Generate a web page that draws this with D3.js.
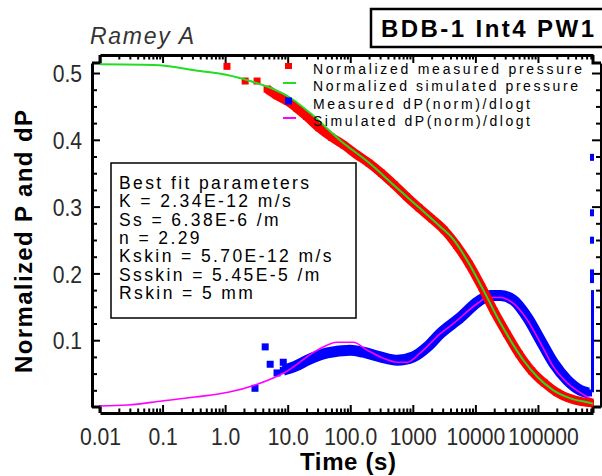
<!DOCTYPE html>
<html><head><meta charset="utf-8">
<script src="https://cdn.jsdelivr.net/npm/d3@7"></script>
<style>body{margin:0;background:#fff}svg{display:block}text{font-family:"Liberation Sans",Arial,sans-serif}</style>
</head><body>
<svg id="c" width="602" height="476"></svg>
<script>
// ---- data (time in s, normalized values) ----
const simPTime = [0.01,0.0705,0.398,1.08,2.51,5.25,11.0,22.9,69.2,209,525,1318,2754,4446,7447,13430,22490,36310,58610,98170,177000,331100,691800,758600];
const simP     = [0.513,0.512,0.503,0.497,0.488,0.478,0.463,0.440,0.399,0.364,0.330,0.297,0.270,0.251,0.219,0.175,0.134,0.100,0.070,0.045,0.025,0.013,0.006,0.005];

const measPTime = [1.07,2.09,3.24,4.68,6.76,9.77,14.1,20.0,31.6,50.1,79.4,126,200,316,501,794,1259,1995,3162,5012,7943,12590,19950,31620,50120,79430,125900,199500,316200,501200,758600];
const measP     = [0.510,0.488,0.488,0.476,0.466,0.458,0.447,0.435,0.418,0.404,0.392,0.378,0.365,0.350,0.333,0.315,0.298,0.282,0.265,0.242,0.214,0.180,0.143,0.110,0.079,0.054,0.036,0.022,0.013,0.008,0.006];

const measDPEarlyTime = [3.0,4.37,5.25,6.76,8.5];
const measDPEarly     = [0.028,0.090,0.064,0.051,0.067];
const measDPTime = [8.5,13.2,20.5,42.9,100,161,302,565,1019,1706,2754,5754,10770,17380,25120,40550,67920,109600,177000,296500,478600,642700];
const measDP     = [0.055,0.061,0.070,0.081,0.085,0.082,0.075,0.070,0.075,0.090,0.110,0.134,0.157,0.167,0.167,0.160,0.134,0.100,0.066,0.040,0.025,0.021];
const spikeTime = 745000;
const spikeLow  = [0.022,0.175];
const spikeHigh = [0.19,0.20,0.249,0.29,0.373];

const simDPTime = [0.01,0.028,0.098,0.331,1.12,3.02,9.12,29.6,61.9,112,187,337,565,817,1318,2754,4446,10770,15560,25120,40550,67920,109600,177000,296500,619400,772700];
const simDP     = [0.0015,0.003,0.009,0.015,0.022,0.033,0.052,0.085,0.097,0.097,0.085,0.073,0.067,0.067,0.081,0.110,0.125,0.155,0.164,0.164,0.155,0.130,0.096,0.060,0.036,0.015,0.010];

const xMajor = [0.01,0.1,1,10,100,1000,10000,100000];
const xLabels = ["0.01","0.1","1.0","10.0","100.0","1000","10000","100000"];
const yMajor = [0.1,0.2,0.3,0.4,0.5];
const yLabels = ["0.1","0.2","0.3","0.4","0.5"];

const legendLabels = ["Normalized measured pressure","Normalized simulated pressure","Measured dP(norm)/dlogt","Simulated dP(norm)/dlogt"];
const paramLines = ["Best fit parameters","K = 2.34E-12 m/s","Ss = 6.38E-6 /m","n = 2.29","Kskin = 5.70E-12 m/s","Ssskin = 5.45E-5 /m","Rskin = 5 mm"];

// ---- drawing ----
const svg = d3.select("#c");
const x = d3.scaleLog().domain([0.01, 758600]).range([100, 593]);
const y = d3.scaleLinear().domain([0, 0.515]).range([407, 63]);

const RED="#ff0000", GREEN="#22dd22", BLUE="#0000ff", MAG="#ff00ff";

const xMinor = [];
for (let k=-2;k<=5;k++) for (let m=2;m<=9;m++){const v=m*Math.pow(10,k); if(v<=758600) xMinor.push(v);}
const yMinor = d3.range(0.025,0.515,0.025).filter(v=>Math.abs(v*10-Math.round(v*10))>1e-6);

function styleAxis(g, w){ g.select(".domain").attr("stroke","#000").attr("stroke-width",w); g.selectAll(".tick line").attr("stroke","#000").attr("stroke-width",2); }
function minor(g){ g.select(".domain").remove(); g.selectAll(".tick line").attr("stroke","#000").attr("stroke-width",2); }

// bottom axis
const gb = svg.append("g").attr("transform","translate(0,413)");
gb.call(d3.axisBottom(x).tickValues(xMajor).tickFormat((d,i)=>xLabels[i]).tickSizeInner(-8).tickSizeOuter(0).tickPadding(32));
styleAxis(gb,3);
gb.selectAll(".tick text").attr("font-size",24).attr("fill","#2a2a2a").attr("dy",0).attr("y",32)
  .attr("dx",(d,i)=>i===xMajor.length-1?5:0);
minor(svg.append("g").attr("transform","translate(0,413)").call(d3.axisBottom(x).tickValues(xMinor).tickFormat("").tickSizeInner(-4.5).tickSizeOuter(0)));

// top axis
const gt = svg.append("g").attr("transform","translate(0,55)");
gt.call(d3.axisTop(x).tickValues(xMajor).tickFormat("").tickSizeInner(-8).tickSizeOuter(0));
styleAxis(gt,3);
minor(svg.append("g").attr("transform","translate(0,55)").call(d3.axisTop(x).tickValues(xMinor).tickFormat("").tickSizeInner(-4.5).tickSizeOuter(0)));

// left axis
const gl = svg.append("g").attr("transform","translate(92,0)");
gl.call(d3.axisLeft(y).tickValues(yMajor).tickFormat((d,i)=>yLabels[i]).tickSizeInner(-8).tickSizeOuter(0).tickPadding(10));
styleAxis(gl,3);
gl.selectAll(".tick text").attr("font-size",24).attr("fill","#2a2a2a").attr("dy","0.36em");
minor(svg.append("g").attr("transform","translate(92,0)").call(d3.axisLeft(y).tickValues(yMinor).tickFormat("").tickSizeInner(-5).tickSizeOuter(0)));

// right axis
const gr = svg.append("g").attr("transform","translate(601,0)");
gr.call(d3.axisRight(y).tickValues(yMajor).tickFormat("").tickSizeInner(-9).tickSizeOuter(0));
styleAxis(gr,3);
minor(svg.append("g").attr("transform","translate(601,0)").call(d3.axisRight(y).tickValues(yMinor).tickFormat("").tickSizeInner(-5).tickSizeOuter(0)));

// corner connectors
const [x0,x1]=x.range(), [yb,yt]=y.range();
const corner = `M92,${yb}H${x0}V413 M92,${yt}H${x0}V55 M${x1},55V${yt}H601 M${x1},413V${yb}H601`;
svg.append("path").attr("d",corner).attr("fill","none").attr("stroke","#000").attr("stroke-width",3);

// condense tick labels horizontally
svg.selectAll(".tick text").each(function(){const l=this.getComputedTextLength(); d3.select(this).attr("textLength",l*0.88).attr("lengthAdjust","spacingAndGlyphs");});

// clip
svg.append("clipPath").attr("id","pc").append("rect").attr("x",x0).attr("y",50).attr("width",x1-x0+1).attr("height",366);
const plot = svg.append("g").attr("clip-path","url(#pc)");

const line = d3.line().x(d=>x(d[0])).y(d=>y(d[1])).curve(d3.curveMonotoneX);
const zip=(a,b)=>a.map((t,i)=>[t,b[i]]);

// measured dP (blue)
plot.append("path").datum(zip(measDPTime,measDP)).attr("d",line).attr("fill","none").attr("stroke",BLUE).attr("stroke-width",11);
plot.selectAll(".bq").data(zip(measDPEarlyTime,measDPEarly).concat(zip(measDPTime,measDP))).join("rect")
  .attr("x",d=>x(d[0])-3.5).attr("y",d=>y(d[1])-3.5).attr("width",7).attr("height",7).attr("fill",BLUE);
plot.append("path").datum(spikeLow.map(v=>[spikeTime,v])).attr("d",d3.line().x(d=>x(d[0])).y(d=>y(d[1]))).attr("stroke",BLUE).attr("stroke-width",3);
plot.selectAll(".bs").data(spikeHigh).join("rect")
  .attr("x",x(spikeTime)-2.5).attr("y",d=>y(d)-4).attr("width",5).attr("height",7).attr("fill",BLUE);

// simulated dP (magenta)
plot.append("path").datum(zip(simDPTime,simDP)).attr("d",line).attr("fill","none").attr("stroke",MAG).attr("stroke-width",1.6);

// measured pressure (red)
plot.append("path").datum(zip(measPTime,measP).slice(3)).attr("d",line).attr("fill","none").attr("stroke",RED).attr("stroke-width",9);
plot.selectAll(".rq").data(zip(measPTime,measP)).join("rect")
  .attr("x",d=>x(d[0])-3.5).attr("y",d=>y(d[1])-3.5).attr("width",7).attr("height",7).attr("fill",RED);

// simulated pressure (green)
plot.append("path").datum(zip(simPTime,simP)).attr("d",line).attr("fill","none").attr("stroke",GREEN).attr("stroke-width",2);

// legend
const lg = svg.append("g");
const lgY=[66,83,101,118], lgW=[269,265,217,217];
lg.append("rect").attr("x",285).attr("y",lgY[0]-3).attr("width",7).attr("height",6).attr("fill",RED);
lg.append("line").attr("x1",283).attr("x2",296).attr("y1",lgY[1]).attr("y2",lgY[1]).attr("stroke",GREEN).attr("stroke-width",2);
lg.append("rect").attr("x",285).attr("y",lgY[2]-3.5).attr("width",7).attr("height",7).attr("fill",BLUE);
lg.append("line").attr("x1",283).attr("x2",296).attr("y1",lgY[3]).attr("y2",lgY[3]).attr("stroke",MAG).attr("stroke-width",2);
lg.selectAll("text").data(legendLabels).join("text").attr("x",313).attr("y",(d,i)=>lgY[i]+8)
  .attr("font-size",14).attr("fill","#000").attr("textLength",(d,i)=>lgW[i]).attr("lengthAdjust","spacing").text(d=>d);

// parameter box
svg.append("rect").attr("x",111).attr("y",163).attr("width",245).attr("height",155).attr("fill","#fff").attr("stroke","#000").attr("stroke-width",1.5);
svg.selectAll(".pl").data(paramLines).join("text").attr("x",119).attr("y",(d,i)=>189+i*18.3)
  .attr("font-size",17.5).attr("letter-spacing",2.4).attr("fill","#000").text(d=>d);

// titles
svg.append("text").attr("x",90).attr("y",44).attr("font-size",23).attr("font-style","italic").attr("fill","#333")
  .attr("textLength",104).attr("lengthAdjust","spacing").text("Ramey  A");
svg.append("rect").attr("x",371).attr("y",9).attr("width",260).attr("height",38).attr("fill","#fff").attr("stroke","#000").attr("stroke-width",2.5);
svg.append("text").attr("x",381).attr("y",37).attr("font-size",24).attr("font-weight","bold").attr("fill","#000")
  .attr("textLength",213).attr("lengthAdjust","spacing").text("BDB-1  Int4  PW1");

// axis titles
svg.append("text").attr("x",300).attr("y",470).attr("font-size",24).attr("font-weight","bold")
  .attr("textLength",96).attr("lengthAdjust","spacing").text("Time  (s)");
svg.append("text").attr("transform","translate(32,373) rotate(-90)").attr("font-size",24).attr("font-weight","bold")
  .attr("textLength",263).attr("lengthAdjust","spacing").text("Normalized  P  and  dP");
</script>
</body></html>
